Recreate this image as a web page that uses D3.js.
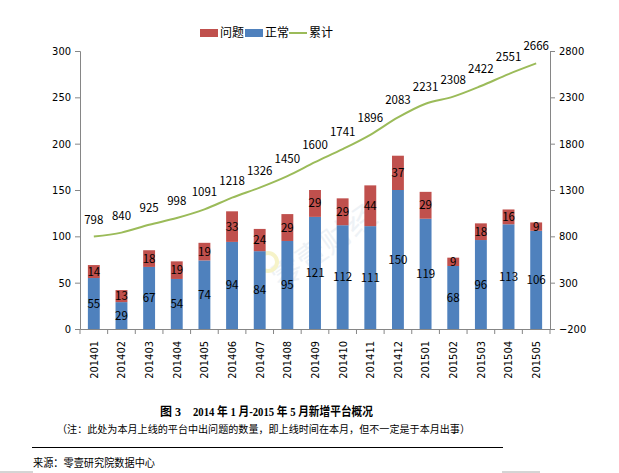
<!DOCTYPE html>
<html><head><meta charset="utf-8">
<script src="https://cdn.jsdelivr.net/npm/d3@7"></script>
<style>body{margin:0;background:#fff}svg{display:block}</style>
</head><body>
<script>
const categories=["201401","201402","201403","201404","201405","201406","201407","201408","201409","201410","201411","201412","201501","201502","201503","201504","201505"];
const normal=[55,29,67,54,74,94,84,95,121,112,111,150,119,68,96,113,106];
const problem=[14,13,18,19,19,33,24,29,29,29,44,37,29,9,18,16,9];
const cumulative=[798,840,925,998,1091,1218,1326,1450,1600,1741,1896,2083,2231,2308,2422,2551,2666];
const leftTicks=[0,50,100,150,200,250,300];
const rightTicks=[-200,300,800,1300,1800,2300,2800];
const seriesNames=["问题","正常","累计"];
const colors={problem:"#C0504D",normal:"#4F81BD",line:"#9BBB59"};

const W=619,H=473;
const svg=d3.select("body").append("svg").attr("width",W).attr("height",H);
const m={l:80,r:550,t:51,b:329};
const x=d3.scaleBand().domain(categories).range([m.l,m.r]).paddingInner(0.57).paddingOuter(0.285);
const yL=d3.scaleLinear().domain([0,300]).range([m.b,m.t]);
const yR=d3.scaleLinear().domain([-200,2800]).range([m.b,m.t]);
const tickFont='"Liberation Sans Narrow","DejaVu Sans Condensed","Liberation Sans",sans-serif';
const labFont='"Noto Sans CJK SC","DejaVu Sans",sans-serif';

// watermark
svg.append("text").attr("x",330).attr("y",255).attr("transform","rotate(-35,330,255)")
 .attr("text-anchor","middle").attr("font-family",labFont).attr("font-size",30)
 .attr("fill","#eef2f6").text("零壹财经");
svg.append("circle").attr("cx",268).attr("cy",262).attr("r",9).attr("fill","none").attr("stroke","#f6f3c8").attr("stroke-width",4);

// bars
const g=svg.append("g");
categories.forEach((c,i)=>{
  g.append("rect").attr("x",x(c)).attr("width",x.bandwidth()).attr("y",yL(normal[i])).attr("height",yL(0)-yL(normal[i])).attr("fill",colors.normal);
  g.append("rect").attr("x",x(c)).attr("width",x.bandwidth()).attr("y",yL(normal[i]+problem[i])).attr("height",yL(0)-yL(problem[i])).attr("fill",colors.problem);
  g.append("text").attr("x",x(c)+x.bandwidth()/2).attr("y",yL(normal[i]/2)).attr("dy","0.35em").attr("text-anchor","middle").attr("font-family",labFont).attr("font-size",11.5).attr("fill","#000").text(normal[i]);
  g.append("text").attr("x",x(c)+x.bandwidth()/2).attr("y",yL(normal[i]+problem[i]/2)).attr("dy","0.35em").attr("text-anchor","middle").attr("font-family",labFont).attr("font-size",11.5).attr("fill","#000").text(problem[i]);
});

// line
const line=d3.line().x((d,i)=>x(categories[i])+x.bandwidth()/2).y(d=>yR(d)).curve(d3.curveCatmullRom);
svg.append("path").datum(cumulative).attr("d",line).attr("fill","none").attr("stroke",colors.line).attr("stroke-width",2);
cumulative.forEach((v,i)=>{
  svg.append("text").attr("x",x(categories[i])+x.bandwidth()/2).attr("y",yR(v)-13).attr("text-anchor","middle").attr("font-family",labFont).attr("font-size",11.5).attr("fill","#000").text(v);
});

// axes
function styleAxis(sel){sel.selectAll("path,line").attr("stroke","#868686");sel.selectAll("text").attr("font-family",tickFont).attr("font-size",11).attr("fill","#000");}
const aL=svg.append("g").attr("transform",`translate(${m.l},0)`).call(d3.axisLeft(yL).tickValues(leftTicks).tickSize(5).tickSizeOuter(5).tickPadding(4));
styleAxis(aL);
const aR=svg.append("g").attr("transform",`translate(${m.r},0)`).call(d3.axisRight(yR).tickValues(rightTicks).tickFormat(d3.format("d")).tickSize(5).tickSizeOuter(5).tickPadding(4));
styleAxis(aR);
const aX=svg.append("g").attr("transform",`translate(0,${m.b})`).call(d3.axisBottom(x).tickSize(0).tickSizeOuter(0));
aX.select(".domain").attr("stroke","#868686");
aX.selectAll("text").attr("font-family",tickFont).attr("font-size",11).attr("fill","#000")
  .attr("transform","rotate(-90)").attr("text-anchor","end").attr("x",-12).attr("y",0).attr("dy","0.35em");
for(let i=0;i<=categories.length;i++){
  const xx=m.l+i*(m.r-m.l)/categories.length;
  svg.append("line").attr("x1",xx).attr("x2",xx).attr("y1",m.b).attr("y2",m.b+5).attr("stroke","#868686");
}

// legend
const lg=svg.append("g").attr("font-family",labFont).attr("font-size",12);
lg.append("rect").attr("x",200).attr("y",29).attr("width",18).attr("height",8).attr("fill",colors.problem);
lg.append("text").attr("x",220).attr("y",33).attr("dy","0.35em").text(seriesNames[0]);
lg.append("rect").attr("x",245).attr("y",29).attr("width",18).attr("height",8).attr("fill",colors.normal);
lg.append("text").attr("x",265).attr("y",33).attr("dy","0.35em").text(seriesNames[1]);
lg.append("line").attr("x1",289).attr("x2",307).attr("y1",33).attr("y2",33).attr("stroke",colors.line).attr("stroke-width",2);
lg.append("text").attr("x",309).attr("y",33).attr("dy","0.35em").text(seriesNames[2]);

// caption
const capFont='"Liberation Serif","Noto Sans CJK SC",serif';
svg.append("text").attr("x",160).attr("y",412).attr("dy","0.35em").attr("font-family",capFont).attr("font-weight","bold").attr("font-size",12).text("图 3");
svg.append("text").attr("x",193).attr("y",412).attr("dy","0.35em").attr("font-family",capFont).attr("font-weight","bold").attr("font-size",12)
  .attr("textLength",180).attr("lengthAdjust","spacingAndGlyphs").text("2014 年 1 月-2015 年 5 月新增平台概况");
svg.append("text").attr("x",57).attr("y",429).attr("dy","0.35em").attr("font-family",labFont).attr("font-size",10.5)
  .attr("textLength",413).attr("lengthAdjust","spacingAndGlyphs").text("（注：此处为本月上线的平台中出问题的数量，即上线时间在本月，但不一定是于本月出事）");
svg.append("line").attr("x1",32).attr("x2",503).attr("y1",447.5).attr("y2",447.5).attr("stroke","#000").attr("stroke-width",1);
svg.append("text").attr("x",33).attr("y",463).attr("dy","0.35em").attr("font-family",labFont).attr("font-size",11)
  .attr("textLength",122).attr("lengthAdjust","spacingAndGlyphs").text("来源：零壹研究院数据中心");
svg.append("line").attr("x1",0).attr("x2",33).attr("y1",472).attr("y2",472).attr("stroke","#aaa");
svg.append("line").attr("x1",502).attr("x2",540).attr("y1",472).attr("y2",472).attr("stroke","#aaa");
</script>
</body></html>
